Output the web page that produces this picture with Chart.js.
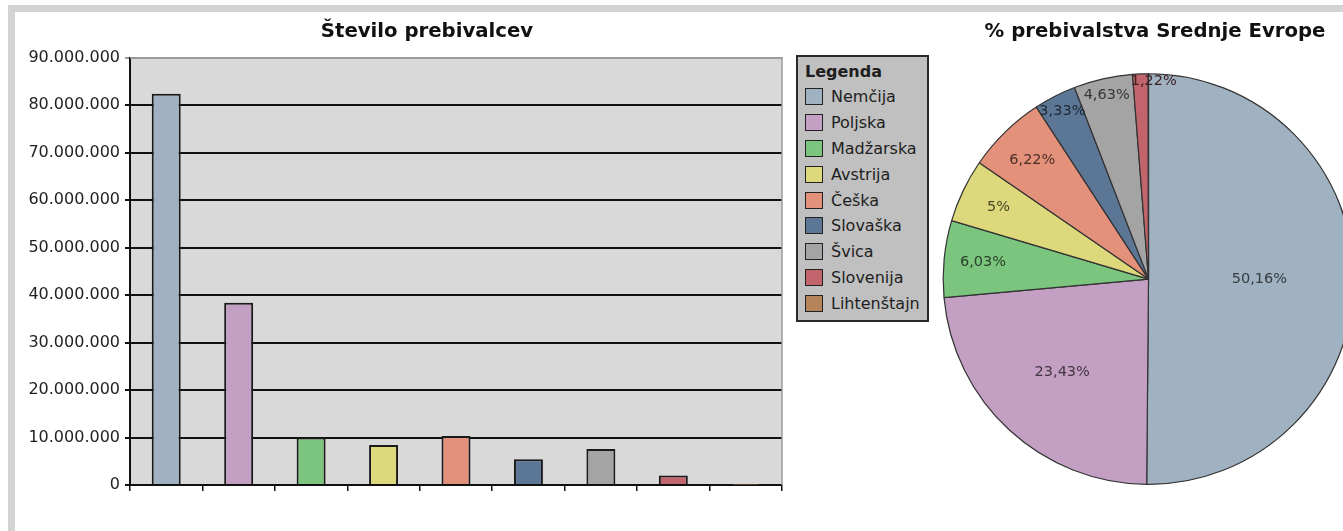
<!DOCTYPE html>
<html>
<head>
<meta charset="utf-8">
<script src="https://cdn.jsdelivr.net/npm/chart.js@4/dist/chart.umd.min.js"></script>
<style>
  html, body { margin:0; padding:0; overflow:hidden; width:1343px; height:531px; background:#fff; }
  body { position:relative; font-family:'DejaVu Sans', sans-serif; }
  #frame { position:absolute; left:8px; top:5px; right:0; bottom:0; background:#d3d3d3; }
  #inner { position:absolute; left:15px; top:12px; right:0; bottom:0; background:#fff; }
  #barCanvas { position:absolute; left:15px; top:12px; }
  #pieCanvas { position:absolute; left:935px; top:12px; }
  #legend { position:absolute; left:796px; top:55px; width:133px; height:267px; box-sizing:border-box;
            background:#c0c0c0; border:2px solid #2a2a2a; padding:5px 0 0 7px; color:#1e1e1e; }
  #legend .ttl { font-weight:bold; font-size:16px; line-height:20px; margin-bottom:2px; }
  #legend .row { display:flex; align-items:center; height:25.8px; font-size:16px; white-space:nowrap; }
  #legend .sw { width:18px; height:17px; box-sizing:border-box; border:1.5px solid #222; margin-right:8px; flex:none; }
</style>
</head>
<body>
<div id="frame"></div>
<div id="inner"></div>
<canvas id="barCanvas" width="770" height="500"></canvas>
<div id="legend"></div>
<canvas id="pieCanvas" width="427" height="480"></canvas>
<script>
// ---- data ----
const categories = ['Nemčija', 'Poljska', 'Madžarska', 'Avstrija', 'Češka', 'Slovaška', 'Švica', 'Slovenija', 'Lihtenštajn'];
const population = [82400000, 38400000, 10000000, 8400000, 10300000, 5400000, 7600000, 2000000, 35000];
const sharePercent = [50.16, 23.43, 6.03, 5, 6.22, 3.33, 4.63, 1.22, 0.02];
const yTicks = [0, 10000000, 20000000, 30000000, 40000000, 50000000, 60000000, 70000000, 80000000, 90000000];
const barTitle = 'Število prebivalcev';
const pieTitle = '% prebivalstva Srednje Evrope';
const legendTitle = 'Legenda';

// ---- styles ----
const colors = ['#a0b2c2', '#c3a0c3', '#7bc57e', '#dcd87b', '#e4917b', '#5c7696', '#a4a4a4', '#c2646b', '#b5845a'];
const FONT = "'DejaVu Sans', sans-serif";
Chart.defaults.font.family = FONT;
Chart.defaults.color = '#222';

function fmtDots(v) { return String(Math.round(v)).replace(/\B(?=(\d{3})+(?!\d))/g, '.'); }
function darken(hex, f) {
  const n = parseInt(hex.slice(1), 16);
  const r = Math.round(((n >> 16) & 255) * f), g = Math.round(((n >> 8) & 255) * f), b = Math.round((n & 255) * f);
  return `rgb(${r},${g},${b})`;
}

// legend (HTML)
const lg = document.getElementById('legend');
lg.innerHTML = `<div class="ttl">${legendTitle}</div>` + categories.map((c, i) =>
  `<div class="row"><span class="sw" style="background:${colors[i]}"></span><span>${c}</span></div>`).join('');

// plugins
const titleShift = {
  id: 'titleShift',
  afterLayout(chart, args, opts) {
    const t = chart.titleBlock;
    if (!t || opts.center == null) return;
    const w = t.right - t.left;
    t.left = opts.center - w / 2;
    t.right = opts.center + w / 2;
  }
};
const plotFrame = {
  id: 'plotFrame',
  beforeDraw(chart, args, opts) {
    const a = chart.chartArea, ctx = chart.ctx;
    ctx.save();
    ctx.fillStyle = opts.background;
    ctx.fillRect(a.left, a.top, a.right - a.left, a.bottom - a.top);
    ctx.restore();
  },
  afterDatasetsDraw(chart, args, opts) {
    const a = chart.chartArea, ctx = chart.ctx;
    ctx.save();
    ctx.strokeStyle = opts.border;
    ctx.lineWidth = 1.5;
    ctx.beginPath();
    ctx.moveTo(a.left, a.top); ctx.lineTo(a.right, a.top); ctx.lineTo(a.right, a.bottom);
    ctx.stroke();
    ctx.restore();
  }
};
const pieLabels = {
  id: 'pieLabels',
  afterDatasetsDraw(chart) {
    const ctx = chart.ctx;
    const meta = chart.getDatasetMeta(0);
    const data = chart.data.datasets[0].data;
    ctx.save();
    ctx.font = `14.5px ${FONT}`;
    ctx.textBaseline = 'middle';
    meta.data.forEach((arc, i) => {
      const v = data[i];
      if (v < 0.5) return;
      const p = arc.getProps(['x', 'y', 'startAngle', 'endAngle', 'outerRadius'], true);
      const mid = (p.startAngle + p.endAngle) / 2;
      let f = v >= 40 ? 0.54 : v >= 20 ? 0.62 : v >= 5 ? 0.81 : v >= 2 ? 0.92 : 0.965;
      const x = p.x + Math.cos(mid) * p.outerRadius * f;
      const y = p.y + Math.sin(mid) * p.outerRadius * f;
      ctx.fillStyle = darken(colors[i], 0.33);
      const txt = String(v).replace('.', ',') + '%';
      if (v < 2) { ctx.textAlign = 'left'; ctx.fillText(txt, x - 10, y); }
      else { ctx.textAlign = 'center'; ctx.fillText(txt, x, y); }
    });
    ctx.restore();
  }
};

// bar chart
new Chart(document.getElementById('barCanvas'), {
  type: 'bar',
  data: {
    labels: categories,
    datasets: [{
      data: population,
      backgroundColor: colors,
      borderColor: '#1a1a1a',
      borderWidth: 2,
      barPercentage: 0.4,
      categoryPercentage: 1.0
    }]
  },
  plugins: [titleShift, plotFrame],
  options: {
    responsive: false,
    animation: false,
    layout: { padding: { left: 0, right: 3, top: 0, bottom: 7 } },
    plugins: {
      legend: { display: false },
      tooltip: { enabled: false },
      title: {
        display: true, text: barTitle, color: '#111',
        font: { size: 19.7, weight: 'bold', family: FONT },
        padding: { top: 8, bottom: 14 }
      },
      titleShift: { center: 412 },
      plotFrame: { background: '#d9d9d9', border: '#9a9a9a' }
    },
    scales: {
      x: {
        grid: { display: true, drawOnChartArea: false, drawTicks: true, tickLength: 6, color: '#111', lineWidth: 1.5, offset: true },
        border: { display: true, color: '#111', width: 2 },
        ticks: { callback: () => '' },
        afterFit(axis) { axis.height = 20; }
      },
      y: {
        min: 0, max: 90000000,
        afterBuildTicks(axis) { axis.ticks = yTicks.map(v => ({ value: v })); },
        ticks: { callback: v => fmtDots(v), font: { size: 16, family: FONT }, color: '#222', padding: 5 },
        grid: {
          color: ctx => (ctx.tick && ctx.tick.value === 90000000 ? '#9a9a9a' : '#111'),
          lineWidth: 2, tickLength: 5
        },
        border: { display: true, color: '#111', width: 2 },
        afterFit(axis) { axis.width = 115; }
      }
    }
  }
});

// pie chart
new Chart(document.getElementById('pieCanvas'), {
  type: 'pie',
  data: {
    labels: categories,
    datasets: [{
      data: sharePercent,
      backgroundColor: colors,
      borderColor: '#333',
      borderWidth: 1.2
    }]
  },
  plugins: [titleShift, pieLabels],
  options: {
    responsive: false,
    animation: false,
    layout: { padding: { left: 0, right: 0, top: 0, bottom: 7 } },
    plugins: {
      legend: { display: false },
      tooltip: { enabled: false },
      title: {
        display: true, text: pieTitle, color: '#111',
        font: { size: 19.7, weight: 'bold', family: FONT },
        padding: { top: 8, bottom: 29.5 }
      },
      titleShift: { center: 220 }
    }
  }
});
</script>
</body>
</html>
